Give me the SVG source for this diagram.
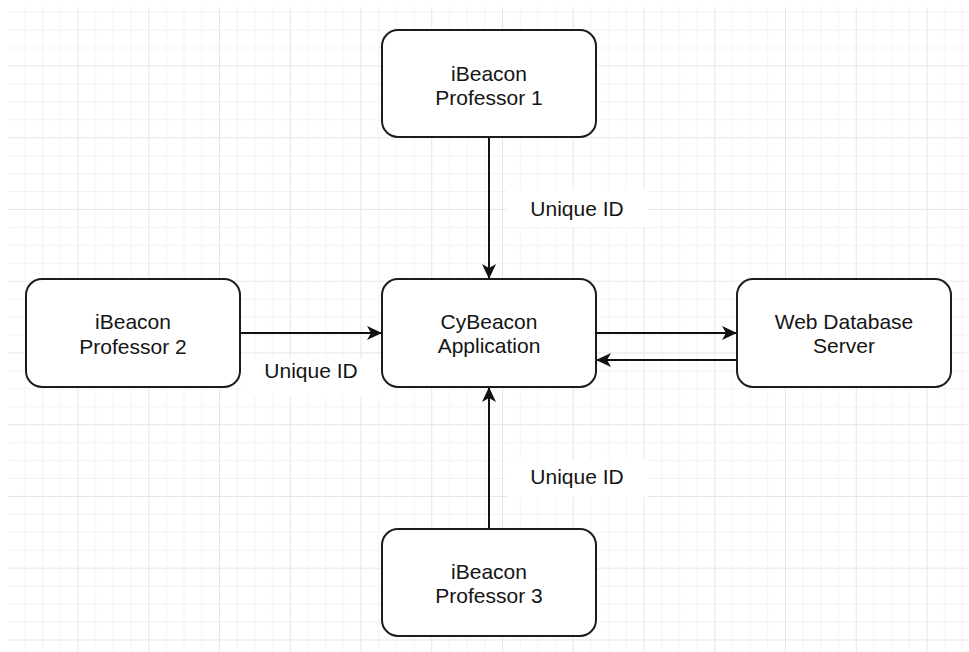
<svg xmlns="http://www.w3.org/2000/svg" width="969" height="652" viewBox="0 0 969 652">
  <style>
    .node rect { fill: #ffffff; stroke: #1c1c1c; stroke-width: 2; }
    .node text, .label text { font-family: "Liberation Sans", Arial, sans-serif; font-size: 21px; fill: #141414; text-anchor: middle; }
    .edge { stroke: #111111; stroke-width: 2; fill: none; marker-end: url(#arrow); }
    .label rect { fill: #ffffff; stroke: none; }
  </style>
  <defs>
    <marker id="arrow" markerUnits="userSpaceOnUse" viewBox="-16 -8 17 16" refX="0" refY="0" markerWidth="17" markerHeight="16" orient="auto">
      <path d="M0,0 L-15,-7 L-11,0 L-15,7 Z" fill="#111111"/>
    </marker>
    <pattern id="grid" patternUnits="userSpaceOnUse" x="6.75" y="-6.3" width="70.75" height="71.75">
      <g fill="#f3f3f3">
        <rect x="17.69" y="0" width="1" height="71.75"/>
        <rect x="35.375" y="0" width="1" height="71.75"/>
        <rect x="53.06" y="0" width="1" height="71.75"/>
        <rect x="0" y="17.94" width="70.75" height="1"/>
        <rect x="0" y="35.875" width="70.75" height="1"/>
        <rect x="0" y="53.81" width="70.75" height="1"/>
      </g>
      <g fill="#e6e6e6">
        <rect x="0" y="0" width="1" height="71.75"/>
        <rect x="0" y="0" width="70.75" height="1"/>
      </g>
    </pattern>
  </defs>
  <rect x="0" y="0" width="969" height="652" fill="#ffffff"/>
  <rect x="8" y="7" width="961" height="645" fill="url(#grid)"/>

  <g id="connectors">
    <line class="edge" x1="489" y1="137" x2="489" y2="279"/>
    <line class="edge" x1="240" y1="333" x2="382" y2="333"/>
    <line class="edge" x1="596" y1="333" x2="737" y2="333"/>
    <line class="edge" x1="737" y1="360" x2="596" y2="360"/>
    <line class="edge" x1="489" y1="529" x2="489" y2="387"/>
  </g>

  <g id="label-top" class="label">
    <rect x="507" y="190" width="141" height="37"/>
    <text x="577" y="216">Unique ID</text>
  </g>
  <g id="label-left" class="label">
    <rect x="241" y="359" width="140" height="37"/>
    <text x="311" y="378">Unique ID</text>
  </g>
  <g id="label-bottom" class="label">
    <rect x="507" y="460" width="141" height="37"/>
    <text x="577" y="484">Unique ID</text>
  </g>

  <g id="professor1" class="node">
    <rect x="382" y="30" width="214" height="107" rx="16" ry="16"/>
    <text x="489" y="81">iBeacon</text>
    <text x="489" y="105">Professor 1</text>
  </g>
  <g id="professor2" class="node">
    <rect x="26" y="279" width="214" height="108" rx="16" ry="16"/>
    <text x="133" y="329">iBeacon</text>
    <text x="133" y="354">Professor 2</text>
  </g>
  <g id="cybeacon" class="node">
    <rect x="382" y="279" width="214" height="108" rx="16" ry="16"/>
    <text x="489" y="329">CyBeacon</text>
    <text x="489" y="353">Application</text>
  </g>
  <g id="webdb" class="node">
    <rect x="737" y="279" width="214" height="108" rx="16" ry="16"/>
    <text x="844" y="329">Web Database</text>
    <text x="844" y="353">Server</text>
  </g>
  <g id="professor3" class="node">
    <rect x="382" y="529" width="214" height="107" rx="16" ry="16"/>
    <text x="489" y="579">iBeacon</text>
    <text x="489" y="603">Professor 3</text>
  </g>
</svg>
